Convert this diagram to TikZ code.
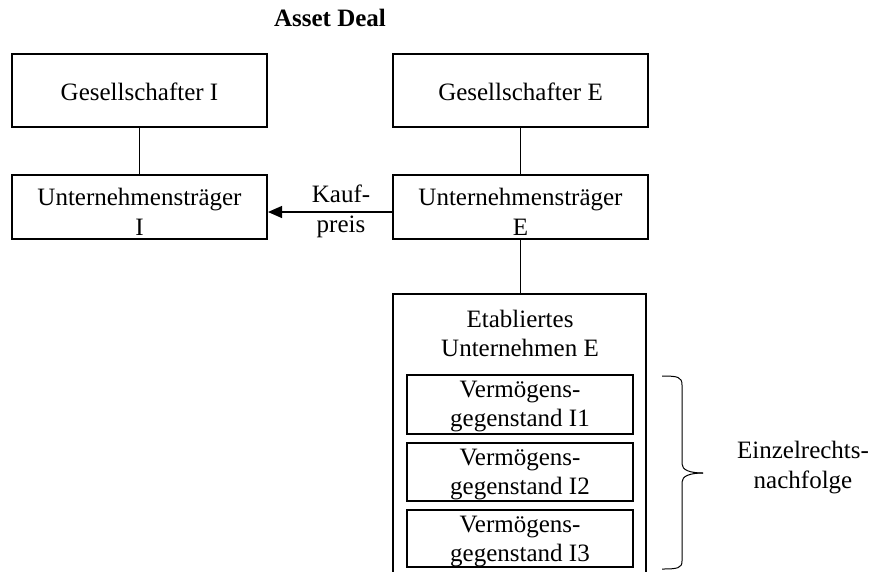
\documentclass[tikz,border=0pt]{standalone}
\usepackage{fontspec}
\setmainfont{Liberation Serif}
\usetikzlibrary{arrows.meta}

\tikzset{
  frame/.style={draw=black, line width=2pt},
  bigbox/.style={frame, rectangle, inner sep=0pt, minimum width=255pt, minimum height=73pt},
  midbox/.style={frame, rectangle, inner sep=0pt, minimum width=255pt, minimum height=64pt},
  itembox/.style={frame, rectangle, inner sep=0pt, minimum width=226pt},
  txt/.style={inner sep=0pt, align=center, font=\fontsize{25}{29.5}\selectfont},
  link/.style={draw=black, line width=1pt},
  flow/.style={draw=black, line width=1.2pt, -{Triangle[length=14pt,width=12pt]}},
}

\begin{document}
\begin{tikzpicture}[x=1pt,y=-1pt]
  \useasboundingbox (0,0) rectangle (872,571);

  % heading
  \node[txt, anchor=base, font=\fontsize{25}{29.5}\selectfont\bfseries] (title) at (330,26) {Asset Deal};

  % left column
  \node[bigbox] (gI) at (139.5,90.5) {};
  \node[txt] (gI-t) at (139.5,91.5) {Gesellschafter I};
  \node[midbox] (uI) at (139.5,207) {};
  \node[txt] (uI-t) at (139.5,212) {Unternehmensträger\\I};

  % right column
  \node[bigbox] (gE) at (520.5,90.5) {};
  \node[txt] (gE-t) at (520.5,91.5) {Gesellschafter E};
  \node[midbox] (uE) at (520.5,207) {};
  \node[txt] (uE-t) at (520.5,212) {Unternehmensträger\\E};

  % company frame, open at the bottom
  \coordinate (euTop) at (520.5,294);
  \draw[frame] (393,572) |- (euTop) -| (646,572);
  \node[txt] (eu-t) at (520,333.5) {Etabliertes\\Unternehmen E};

  % assets
  \node[itembox, minimum height=59pt] (a1) at (520,404.5) {};
  \node[txt] (a1-t) at (520,406.5) {Vermögens-\\gegenstand I1};
  \node[itembox, minimum height=58pt] (a2) at (520,472) {};
  \node[txt] (a2-t) at (520,474.5) {Vermögens-\\gegenstand I2};
  \node[itembox, minimum height=57pt] (a3) at (520,538.5) {};
  \node[txt] (a3-t) at (520,541.5) {Vermögens-\\gegenstand I3};

  % connectors
  \draw[link] (gI.south) -- (uI.north);
  \draw[link] (gE.south) -- (uE.north);
  \draw[link] (uE.south) -- (euTop);
  \draw[flow] ([yshift=-5pt]uE.west) -- ([yshift=-5pt]uI.east);
  \node[txt] (price) at (341,211.2) {Kauf-\\preis};

  % brace over the assets
  \draw[line width=1pt] (662,376) .. controls (678,376) and (682,377) .. (682,385)
    -- (682,464) .. controls (682,470) and (690,473) .. (703,473);
  \draw[line width=1pt] (703,473) .. controls (690,473) and (682,476) .. (682,482)
    -- (682,561) .. controls (682,568) and (678,569) .. (662,569);
  \node[txt] (succ) at (803,467.7) {Einzelrechts-\\nachfolge};
\end{tikzpicture}
\end{document}
